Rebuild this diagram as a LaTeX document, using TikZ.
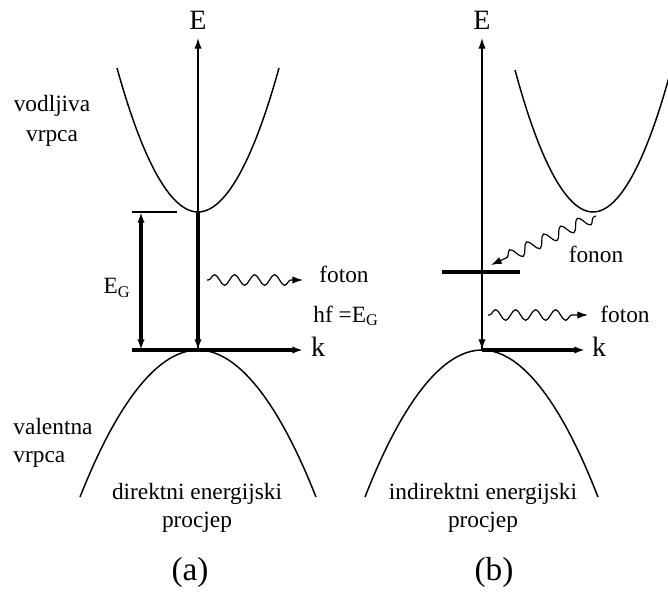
\documentclass[tikz,border=0pt]{standalone}
\usepackage{fontspec}
\setmainfont{Liberation Serif}
\usetikzlibrary{arrows.meta,decorations.pathmorphing}
\begin{document}
\begin{tikzpicture}[x=0.75pt,y=-0.75pt,
  thinline/.style={line width=1.1pt},
  thickline/.style={line width=2.4pt},
  band/.style={line width=1.1pt},
  tip/.style={-{Latex[length=8pt,width=5.5pt]}},
  wave/.style={line width=0.9pt,-{Latex[length=8pt,width=5.5pt]},decorate,
    decoration={snake,amplitude=4pt,segment length=15pt,post length=9pt,pre length=1pt}},
  lbl/.style={font=\fontsize{17.5}{21}\selectfont,inner sep=0pt},
  axl/.style={font=\fontsize{21}{24}\selectfont,inner sep=0pt},
  panelcap/.style={font=\fontsize{25}{28}\selectfont,inner sep=0pt}]
\useasboundingbox (0,0) rectangle (668,592);
% ---------- panel (a) ----------
\coordinate (Oa) at (198,350);
\coordinate (Ea) at (198,38);
\coordinate (Ca) at (198,212);
\coordinate (Ka0) at (132,350);
\coordinate (Ka) at (303,350);
\coordinate (Ga1) at (141,212);
\coordinate (Ga2) at (141,350);
\coordinate (Ta1) at (132,212);
\coordinate (Ta2) at (177,212);
\coordinate (Pa1) at (207,280);
\coordinate (Pa2) at (303,280);
\draw[band] (117,68) parabola bend (Ca) (279,68);
\draw[band] (80,497) parabola bend (Oa) (316,497);
\draw[thinline,tip] (Oa) -- (Ea);
\draw[thickline,tip] (Ca) -- (Oa);
\draw[thickline,tip] (Ka0) -- (Ka);
\draw[thinline] (Ta1) -- (Ta2);
\draw[thickline,{Latex[length=8pt,width=5.5pt]}-{Latex[length=8pt,width=5.5pt]}] (Ga1) -- (Ga2);
\draw[wave] (Pa1) -- (Pa2);
\node[axl] (Elab) at (198,20) {E};
\node[axl] (klab) at (318,347) {k};
\node[lbl] (EG) at (117,288) {E\textsubscript{G}};
\node[lbl] (fa) at (344,274) {foton};
\node[lbl] (hf) at (346,316) {hf =E\textsubscript{G}};
\node[lbl,align=center,font=\fontsize{17.5}{23}\selectfont] (vod) at (52,121) {vodljiva\\vrpca};
\node[lbl,align=left] (val) at (53,443) {valentna\\vrpca};
\node[lbl,align=center] (dir) at (197,508) {direktni energijski\\procjep};
\node[panelcap] (a) at (190,572) {(a)};
% ---------- panel (b) ----------
\coordinate (Ob) at (482,350);
\coordinate (Eb) at (482,38);
\coordinate (Cb) at (593,212);
\coordinate (Kb) at (585,350);
\coordinate (B1) at (442,272);
\coordinate (B2) at (520,272);
\coordinate (Bm) at (482,272);
\coordinate (Ph1) at (596,216);
\coordinate (Ph2) at (491,265);
\coordinate (Pb1) at (488,315);
\coordinate (Pb2) at (588,315);
\begin{scope}
\clip (0,0) rectangle (668,592);
\draw[band] (515,70) parabola bend (Cb) (671,70);
\end{scope}
\draw[band] (365,497) parabola bend (Ob) (598,497);
\draw[thinline,tip] (Ob) -- (Eb);
\draw[line width=1.8pt,tip] (Bm) -- (Ob);
\draw[line width=2.8pt] (B1) -- (B2);
\draw[thickline,tip] (Ob) -- (Kb);
\draw[wave,decoration={snake,amplitude=4.4pt,segment length=14pt,post length=10pt,pre length=2pt}] (Ph1) -- (Ph2);
\draw[wave] (Pb1) -- (Pb2);
\node[axl] (Elb) at (482,20) {E};
\node[axl] (klb) at (599,347) {k};
\node[lbl] (fon) at (596,254) {fonon};
\node[lbl] (fb) at (625,314) {foton};
\node[lbl,align=center] (ind) at (483,508) {indirektni energijski\\procjep};
\node[panelcap] (b) at (494,572) {(b)};
\end{tikzpicture}
\end{document}
